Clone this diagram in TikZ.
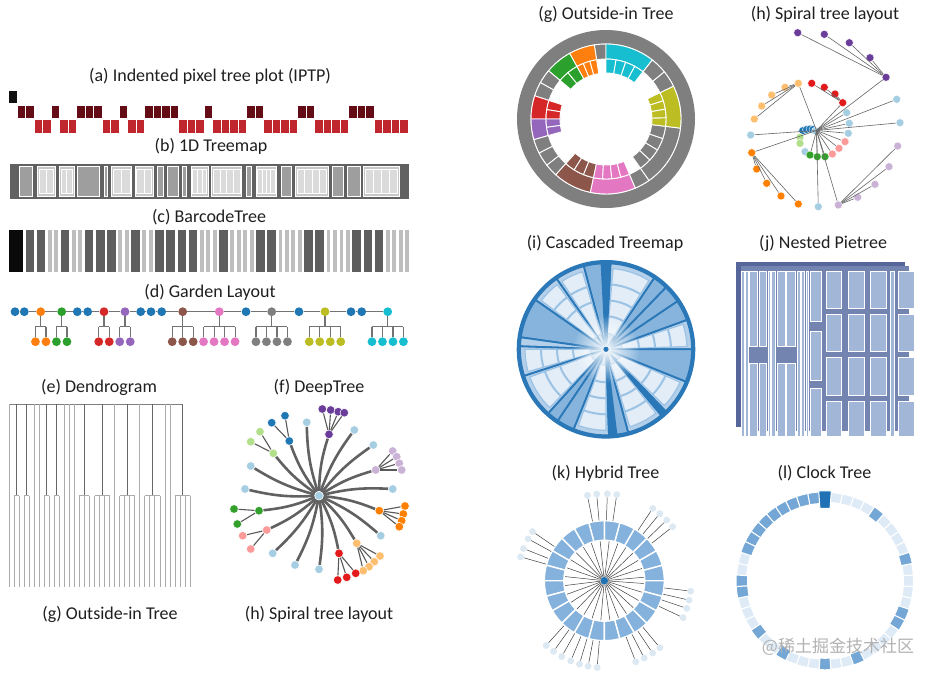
\documentclass[tikz,border=0pt]{standalone}
\usepackage{fontspec}
\setmainfont{Carlito}
\newfontfamily\cjkfont{Noto Sans CJK SC}
\usepackage{tikz}
\usetikzlibrary{positioning,calc,fadings}
% tableau colours
\definecolor{tab_blue}{HTML}{1F77B4}
\definecolor{tab_orange}{HTML}{FF7F0E}
\definecolor{tab_green}{HTML}{2CA02C}
\definecolor{tab_red}{HTML}{D62728}
\definecolor{tab_purple}{HTML}{9467BD}
\definecolor{tab_brown}{HTML}{8C564B}
\definecolor{tab_pink}{HTML}{E377C2}
\definecolor{tab_gray}{HTML}{7F7F7F}
\definecolor{tab_olive}{HTML}{BCBD22}
\definecolor{tab_cyan}{HTML}{17BECF}
% paired colours
\definecolor{pr_lblue}{HTML}{A6CEE3}
\definecolor{pr_blue}{HTML}{1F78B4}
\definecolor{pr_lgreen}{HTML}{B2DF8A}
\definecolor{pr_green}{HTML}{33A02C}
\definecolor{pr_pink}{HTML}{FB9A99}
\definecolor{pr_red}{HTML}{E31A1C}
\definecolor{pr_lorange}{HTML}{FDBF6F}
\definecolor{pr_orange}{HTML}{FF7F00}
\definecolor{pr_lpurple}{HTML}{CAB2D6}
\definecolor{pr_purple}{HTML}{6A3D9A}
% pixels and bars
\definecolor{iptp0}{HTML}{111111}
\definecolor{iptp1}{HTML}{640C16}
\definecolor{iptp2}{HTML}{C0262E}
\definecolor{bar0}{HTML}{0A0A0A}
\definecolor{bar1}{HTML}{5E5E5E}
\definecolor{bar2}{HTML}{BEBEBE}
% blues
\definecolor{ct_line}{HTML}{2A78B8}
\definecolor{ct_mid}{HTML}{86B4DC}
\definecolor{ct_par}{HTML}{B3CFEA}
\definecolor{ct_in}{HTML}{E2EDF8}
\definecolor{ct_band}{HTML}{9CC2E4}
\definecolor{np_back}{HTML}{56669A}
\definecolor{np_mid}{HTML}{7384B0}
\definecolor{np_box}{HTML}{A2B7D8}
\definecolor{hy_seg}{HTML}{85B2DC}
\definecolor{hy_leaf}{HTML}{DCE8F2}
\definecolor{ck_light}{HTML}{DEEBF7}
\definecolor{ck_mid}{HTML}{74A7D5}
\definecolor{ck_dark}{HTML}{2171B5}
\tikzfading[name=ctglow, inner color=transparent!0, outer color=transparent!100]

\begin{document}
\begin{tikzpicture}[x=1pt,y=-1pt,
    title/.style={font=\fontsize{18}{21}\selectfont, text=black!88, inner sep=0pt},
    tmleaf/.style={fill=black!38, draw=white, line width=0.7pt},
    tmpar/.style={fill=black!22, draw=white, line width=0.7pt},
    tmkid/.style={fill=black!14, draw=white, line width=0.6pt},
    gnode/.style={circle, minimum size=8.8pt, inner sep=0pt},
    gline/.style={draw=black!55, line width=1.1pt},
    dtop/.style={draw=black!50, line width=1.3pt},
    dleaf/.style={draw=black!33, line width=0.8pt},
    dpar/.style={draw=black!60, line width=0.8pt},
    dnode/.style={circle, minimum size=8.6pt, inner sep=0pt, draw=white, line width=0.5pt},
    dedge/.style={draw=black!62, line width=2.6pt},
    dtwig/.style={draw=black!65, line width=1.1pt},
    oiseg/.style={draw=white, line width=0.9pt},
    snode/.style={circle, minimum size=8pt, inner sep=0pt, draw=white, line width=0.4pt},
    sedge/.style={draw=black!60, line width=0.6pt},
    ctsec/.style={draw=ct_line, line width=1.8pt, line join=round},
    ctin/.style={fill=ct_in, draw=ct_band, line width=1.2pt},
    ctband/.style={draw=ct_band, line width=2pt},
    npbox/.style={fill=np_box, draw=white, line width=0.8pt},
    hyseg/.style={fill=hy_seg, draw=white, line width=1.4pt},
    hyline/.style={draw=black!75, line width=0.5pt},
    hyleaf/.style={circle, minimum size=6.8pt, inner sep=0pt, fill=hy_leaf},
    ckcell/.style={draw=white, line width=1pt},
    wmark/.style={font=\fontsize{17}{20}\selectfont, text=black!30, inner sep=0pt}]
\useasboundingbox (0,0) rectangle (940,678);
\fill[white] (0,0) rectangle (940,678);

% titles
\node[title] (ta) at (210,76.5) {(a) Indented pixel tree plot (IPTP)};
\node[title] (tb) at (211,146.7) {(b) 1D Treemap};
\node[title] (tc) at (209,217.5) {(c) BarcodeTree};
\node[title] (td) at (210,292.5) {(d) Garden Layout};
\node[title] (te) at (99,387.5) {(e) Dendrogram};
\node[title] (tf) at (319,387.5) {(f) DeepTree};
\node[title] (tgb) at (110,614) {(g) Outside-in Tree};
\node[title] (thb) at (319,614) {(h) Spiral tree layout};
\node[title] (tg) at (606,14) {(g) Outside-in Tree};
\node[title] (th) at (825,14) {(h) Spiral tree layout};
\node[title] (ti) at (605,243) {(i) Cascaded Treemap};
\node[title] (tj) at (823,243) {(j) Nested Pietree};
\node[title] (tk) at (605.5,473) {(k) Hybrid Tree};
\node[title] (tl) at (824.5,473) {(l) Clock Tree};

% (a) pixel columns
\foreach \d [count=\i from 0] in {0,1,1,2,2,1,2,2,1,1,1,2,2,1,2,2,1,1,1,1,2,2,2,1,2,2,2,2,1,1,2,2,2,2,1,1,2,2,2,2,1,1,1,2,2,2,2}
  \fill[fill=iptp\d] (9+8.5*\i,91+14.7*\d) rectangle ++(7.8,12.3);

% (b) 1D treemap
\fill[black!62] (10,163.5) rectangle (409,198.5);
\foreach \xa/\xb/\n in {19.3/32.7/0, 37.7/55/2, 59.3/74/2, 77.3/99.3/0, 104/107.3/0, 111.7/131.7/2, 135/153.3/2, 157.7/163.3/0, 167.7/178.3/0, 182/186.7/0, 191/208.3/3, 211.7/241.7/4, 246/251.7/0, 256/276.7/4, 281.7/291.7/0, 295.7/328.3/4, 332.3/343.3/0, 347.7/360/0, 363.3/399.3/4}{
  \ifnum\n=0
    \filldraw[tmleaf] (\xa,166.5) rectangle (\xb,196);
  \else
    \filldraw[tmpar] (\xa,166.5) rectangle (\xb,196);
    \foreach \k in {1,...,\n}
      \filldraw[tmkid] ({\xa+1.6+(\k-1)*(\xb-\xa-3.2)/\n},169) rectangle ({\xa+1.6+\k*(\xb-\xa-3.2)/\n},193.5);
  \fi
}

% (c) barcode
\xdef\bx{9}
\foreach \d in {0,1,1,2,2,1,2,2,1,1,1,2,2,1,2,2,1,1,1,1,2,2,2,1,2,2,2,2,1,1,2,2,2,2,1,1,2,2,2,2,1,1,1,2,2,2,2}{
  \pgfmathsetmacro\bw{\d==0 ? 14 : (\d==1 ? 8.5 : 3.8)}
  \fill[fill=bar\d] (\bx,230) rectangle ++(\bw,42);
  \pgfmathsetmacro\nbx{\bx+\bw+2.65}
  \xdef\bx{\nbx}
}

% (d) garden layout
\foreach \nm/\x/\c in {g1/15/tab_blue, g2/24.3/tab_blue, g3/40.7/tab_orange, g4/61.7/tab_green, g5/77.3/tab_blue, g6/87.7/tab_blue, g7/104/tab_red, g8/125/tab_purple, g9/140.7/tab_blue, g10/151/tab_blue, g11/161.7/tab_blue, g12/182.7/tab_brown, g13/219.3/tab_pink, g14/246/tab_blue, g15/271.7/tab_gray, g16/299/tab_blue, g17/325/tab_olive, g18/351/tab_blue, g19/361.7/tab_blue, g20/387.7/tab_cyan}
  \node[gnode, fill=\c] (\nm) at (\x,311.7) {};
\foreach \i [count=\j from 2] in {1,...,19}
  \draw[gline] (g\i) -- (g\j);
\foreach \p/\n/\c in {g3/2/tab_orange, g4/2/tab_green, g7/2/tab_red, g8/2/tab_purple, g12/3/tab_brown, g13/4/tab_pink, g15/4/tab_gray, g17/4/tab_olive, g20/4/tab_cyan}{
  \coordinate (\p bar) at ($(\p)+(0,15)$);
  \foreach \k in {1,...,\n}{
    \pgfmathsetmacro\kdx{(\k-(\n+1)/2)*10.5}
    \node[gnode, fill=\c] (\p k\k) at ($(\p)+(\kdx,30)$) {};
    \draw[gline] (\p k\k) -- (\p k\k |- \p bar);
  }
  \draw[gline] (\p) -- (\p bar);
  \draw[gline] (\p k1 |- \p bar) -- (\p k\n |- \p bar);
}

% (e) dendrogram
\draw[dtop] (9,404.3) -- (9+34.5*5.03,404.3);
\foreach \c in {0,5,6,11,12,13,21,26,31,32}
  \draw[dleaf] (9+\c*5.03,404.3) -- (9+\c*5.03,586.7);
\foreach \a/\b in {1/2,3/4,7/8,9/10,14/16,17/20,22/25,27/30,33/36}{
  \draw[dpar] ({9+(\a+\b)/2*5.03},404.3) -- ({9+(\a+\b)/2*5.03},495.7);
  \draw[dleaf] (9+\a*5.03,495.7) -- (9+\b*5.03,495.7);
  \foreach \c in {\a,...,\b}
    \draw[dleaf] (9+\c*5.03,495.7) -- (9+\c*5.03,586.7);
}

% (f) deep tree
\node[dnode, fill=pr_lblue] (f0) at (319,495.7) {};
\foreach \nm/\x/\y in {fl1/306.7/422.3, fl2/354.3/430, fl3/373.3/445, fl4/250.7/466, fl5/245/489, fl6/392.7/489, fl7/380.7/535.7, fl8/272.7/553.3, fl9/295/565, fl10/319/569.3}{
  \node[dnode, fill=pr_lblue] (\nm) at (\x,\y) {};
  \draw[dedge] (f0) to[bend left=8] (\nm);
}
\foreach \p/\px/\py/\c/\kids in {
    fpu/329/434.3/pr_purple/{322.3/409,330.7/410,338.3/411.7,344.3/412.7},
    fbl/289.3/441/pr_blue/{271.7/422.7,285/415.7},
    flg/273.3/453.3/pr_lgreen/{260/431.7,250.7/441.7},
    flp/375.7/470/pr_lpurple/{392.7/451,396.7/456.7,399.3/463.3,401.7/470},
    fgr/259/510.7/pr_green/{234/509,237.3/524},
    fpk/266.7/530/pr_pink/{242.7/535.7,250.7/549},
    fog/379.3/510.7/pr_orange/{405/506,403.3/514,401.7/520.7,399.3/526.7},
    flo/356.7/543.3/pr_lorange/{380/556,374.3/561.7,369/566.7,363.3/570.7},
    fre/339/553.3/pr_red/{355.7/573.3,346.7/577.3,337.7/580}}{
  \node[dnode, fill=\c] (\p) at (\px,\py) {};
  \draw[dedge] (f0) to[bend left=8] (\p);
  \foreach \kx/\ky [count=\k] in \kids {
    \node[dnode, fill=\c] (\p\k) at (\kx,\ky) {};
    \draw[dtwig] (\p) -- (\p\k);
  }
}
\node[dnode, fill=pr_lblue] at (f0) {};

% (g) outside-in tree
\begin{scope}[shift={(606,119)}, y=1pt]
  \fill[tab_gray] (0,0) circle (89);
  \filldraw[oiseg, fill=white] (0,0) circle (75);
  \foreach \a/\b/\c/\n in {90/99/tab_gray/0, 99/119/tab_orange/3, 119/140/tab_green/2, 140/151/tab_gray/0, 151/162/tab_gray/0, 162/180/tab_red/2, 180/196/tab_purple/2, 196/207/tab_gray/0, 207/218/tab_gray/0, 218/228/tab_gray/0, 228/258/tab_brown/3, 258/293/tab_pink/4, 293/305/tab_gray/0, 305/353/tab_gray/4, 353/386/tab_olive/4, 386/399/tab_gray/0, 399/412/tab_gray/0, 412/450/tab_cyan/4}{
    \filldraw[oiseg, fill=\c] (\a:75) arc (\a:\b:75) -- (\b:60) arc (\b:\a:60) -- cycle;
    \ifnum\n>0
      \foreach \k in {1,...,\n}{
        \pgfmathsetmacro\sa{\a+(\k-1)*(\b-\a)/\n}
        \pgfmathsetmacro\sb{\a+\k*(\b-\a)/\n}
        \filldraw[oiseg, fill=\c] (\sa:60) arc (\sa:\sb:60) -- (\sb:46) arc (\sb:\sa:46) -- cycle;
      }
    \fi
  }
\end{scope}

% (h) spiral tree
\coordinate (hc) at (816.5,130.5);
\foreach \nm/\x/\y/\c in {hbl1/802.7/130.7/pr_blue, hbl2/806.5/129.5/pr_blue, hbl3/810/129/pr_blue, hbl4/813/129.5/pr_blue, hbl5/815.5/131/pr_lblue,
    hlg2/800/137.3/pr_lgreen, hlg1/800/143.3/pr_lgreen, hlb8/805/151.7/pr_lblue,
    hgr3/810/155/pr_green, hgr2/817.3/156.7/pr_green, hgr1/825/156.7/pr_green,
    hlr3/832.3/154/pr_pink, hlr2/839/148.3/pr_pink, hlr1/845/141.7/pr_pink,
    hlb5/848.3/133.3/pr_lblue, hlb4/849.3/123.3/pr_lblue, hlb3/846.7/112.7/pr_lblue,
    hpu0/886/77.3/pr_purple, hpu1/797.7/32.7/pr_purple, hpu2/824.3/34.3/pr_purple, hpu3/849.3/42.7/pr_purple, hpu4/870/57.7/pr_purple,
    hlo0/798.3/83.3/pr_lorange, hlo1/785/87.3/pr_lorange, hlo2/771.7/95/pr_lorange, hlo3/761.7/106/pr_lorange, hlo4/754.3/119/pr_lorange,
    hre0/842.7/102.7/pr_red, hre1/835/94/pr_red, hre2/824.3/87.3/pr_red, hre3/811.7/83.3/pr_red,
    hlb1/896.7/99.3/pr_lblue, hlb2/900/122.7/pr_lblue, hlb6/750.7/135/pr_lblue, hlb7/818.3/206.7/pr_lblue,
    hor0/751.7/152.7/pr_orange, hor1/756.7/169/pr_orange, hor2/766.7/183.3/pr_orange, hor3/781/196/pr_orange, hor4/798.3/204/pr_orange,
    hlp0/838.3/205/pr_lpurple, hlp1/857.7/197.3/pr_lpurple, hlp2/875/184.3/pr_lpurple, hlp3/889/166.7/pr_lpurple, hlp4/897.7/146/pr_lpurple}
  \node[snode, fill=\c] (\nm) at (\x,\y) {};
\foreach \t in {hpu0,hlo0,hre0,hlb1,hlb2,hlb3,hlb4,hlb5,hlb6,hlb7,hor0,hlp0,hlr1,hlr2,hlr3,hgr1,hgr2,hgr3}
  \draw[sedge] (hc) -- (\t);
\foreach \p/\n in {hpu/4,hlo/4,hre/3,hor/4,hlp/4}
  \foreach \k in {1,...,\n}
    \draw[sedge] (\p0) -- (\p\k);

% (i) cascaded treemap
\begin{scope}[shift={(606,349.3)}, y=1pt]
  \foreach \a/\b/\t/\n in {0/20/1/4, 20/34/0/0, 34/46/0/0, 46/56/0/0, 56/87/1/4, 87/93/2/0, 93/105/0/0, 105/125/1/3, 125/145/1/3, 145/172/0/0, 172/178/3/0, 178/198/1/4, 198/228/1/3, 228/236/0/0, 236/248/0/0, 248/272/1/4, 272/277/2/0, 277/285/0/0, 285/310/1/4, 310/314/2/0, 314/338/1/3, 338/360/0/0}{
    \ifcase\t
      \filldraw[ctsec, fill=ct_mid] (0,0) -- (\a:86) arc (\a:\b:86) -- cycle;
    \or
      \filldraw[ctsec, fill=ct_par] (0,0) -- (\a:86) arc (\a:\b:86) -- cycle;
      \pgfmathsetmacro\ia{\a+2}
      \pgfmathsetmacro\ib{\b-2}
      \filldraw[ctin] (\ia:16) -- (\ia:81) arc (\ia:\ib:81) -- (\ib:16) arc (\ib:\ia:16) -- cycle;
      \pgfmathtruncatemacro\nb{\n-1}
      \foreach \k in {1,...,\nb}
        \draw[ctband] (\ia:81-\k*16) arc (\ia:\ib:81-\k*16);
    \or
      \filldraw[ctsec, fill=ct_line] (0,0) -- (\a:86) arc (\a:\b:86) -- cycle;
    \or
      \filldraw[ctsec, fill=ct_par] (0,0) -- (\a:86) arc (\a:\b:86) -- cycle;
    \fi
  }
  \draw[ct_line, line width=3.6pt] (0,0) circle (87.5);
  \fill[white, path fading=ctglow] (0,0) circle (34);
  \fill[ct_line] (0,0) circle (2.6);
\end{scope}

% (j) nested pietree
\fill[np_back] (736,262) rectangle (905,427);
\fill[np_mid] (740.5,266) rectangle (909,431);
\foreach \xa/\xb/\ys in {741.2/744.3/{271.7/436.7}, 745.3/748.2/{271.7/436.7},
    749.3/757.3/{271.7/346.7,363.3/436.7}, 759/766.7/{271.7/346.7,363.3/436.7},
    768.3/770.7/{271.7/436.7}, 771.7/775/{271.7/436.7},
    777.3/785/{271.7/346.7,363.3/436.7}, 786.7/795/{271.7/346.7,363.3/436.7},
    797.3/800/{271.7/436.7}, 801.7/804/{271.7/436.7}, 806/808.3/{271.7/436.7},
    810.7/821.7/{271.7/321.7,331/380,388.3/436.7},
    826/841.7/{271.7/308.3,314.3/351.7,357.7/395,401/436.7},
    848.3/864/{271.7/308.3,314.3/351.7,357.7/395,401/436.7},
    870.7/886.7/{271.7/308.3,314.3/351.7,357.7/395,401/436.7},
    890.7/894/{271.7/436.7},
    898.3/914/{271.7/308.3,314.3/351.7,357.7/395,401/436.7}}{
  \foreach \ya/\yb in \ys
    \filldraw[npbox] (\xa,\ya) rectangle (\xb,\yb);
}

% (k) hybrid tree
\begin{scope}[shift={(604.3,580.7)}, y=1pt]
  \node[circle, minimum size=7.6pt, inner sep=0pt, fill=ck_dark] (hk0) at (0,0) {};
  \foreach \a in {0,13,...,351}
    \draw[hyline] (hk0) -- (\a+5:40.5);
  \foreach \a in {0,15,...,345}
    \filldraw[hyseg] (\a:60) arc (\a:\a+15:60) -- (\a+15:40.5) arc (\a+15:\a:40.5) -- cycle;
  \foreach \a [count=\i] in {101.2,95,88,81.8,56.2,50.4,44.2,38.3,145.6,151.2,158.3,164.1,-6.9,-12.9,-18.5,-25.1,228.1,234.3,240.7,247.3,253.4,259.3,265.3,291.2,297.3,303.7,309.7}{
    \node[hyleaf] (hkl\i) at (\a:87) {};
    \draw[hyline] (\a:60.5) -- (hkl\i);
  }
\end{scope}

% (l) clock tree
\begin{scope}[shift={(825,580.8)}, y=1pt]
  \foreach \i in {0,...,47}{
    \pgfmathsetmacro\ca{86.25+7.5*\i}
    \pgfmathsetmacro\cb{93.75+7.5*\i}
    \filldraw[ckcell, fill=ck_light] (\ca:88.5) arc (\ca:\cb:88.5) -- (\cb:78.5) arc (\cb:\ca:78.5) -- cycle;
  }
  \foreach \i in {1,2,3,4,5,6,7,8,9,12,13,17,20,24,27,32,33,38,43}{
    \pgfmathsetmacro\ca{86.25+7.5*\i}
    \pgfmathsetmacro\cb{93.75+7.5*\i}
    \filldraw[ckcell, fill=ck_mid] (\ca:89) arc (\ca:\cb:89) -- (\cb:77.5) arc (\cb:\ca:77.5) -- cycle;
  }
  \filldraw[ckcell, fill=ck_dark] (86:90) arc (86:94:90) -- (94:72.5) arc (94:86:72.5) -- cycle;
\end{scope}

% watermark
\node[wmark] (wm) at (838,646.5) {\cjkfont @稀土掘金技术社区};
\end{tikzpicture}
\end{document}
